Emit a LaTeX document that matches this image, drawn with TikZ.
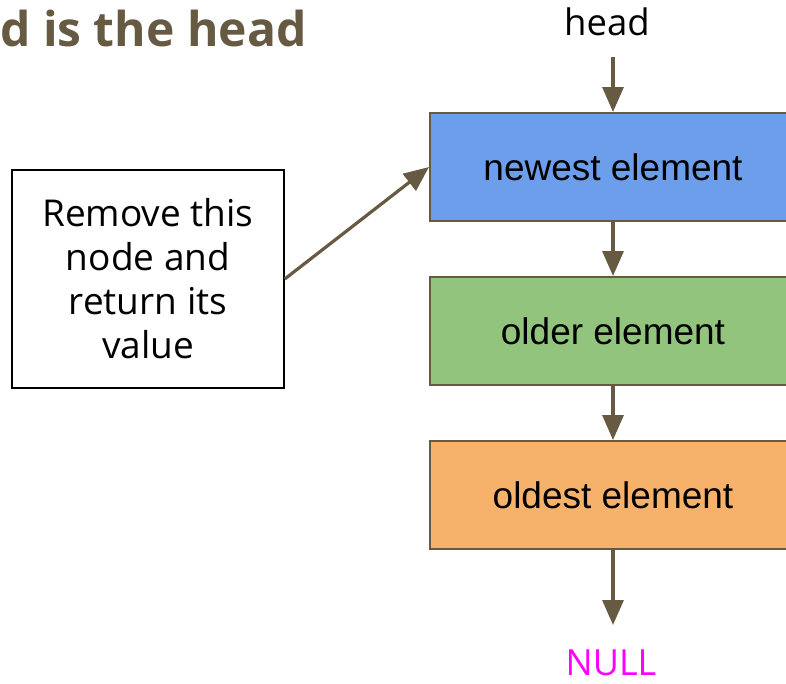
\documentclass[tikz,border=0pt]{standalone}
\usepackage{fontspec}
\setmainfont{Open Sans}
\newfontfamily\boxfont{Liberation Sans}
\usetikzlibrary{arrows.meta}
\definecolor{linkbrown}{RGB}{102,90,67}
\definecolor{newblue}{RGB}{109,158,235}
\definecolor{oldgreen}{RGB}{147,196,125}
\definecolor{oldestorange}{RGB}{246,178,107}
\definecolor{nullpink}{RGB}{255,0,255}
\tikzset{
	elembox/.style={draw=linkbrown, line width=2pt, minimum width=366pt, minimum height=108pt,
		inner sep=0pt, font=\boxfont\fontsize{37}{44}\selectfont},
	linkarrow/.style={draw=linkbrown, line width=3.2pt, -{Triangle[length=25pt,width=21pt]}},
}

\begin{document}
\begin{tikzpicture}[x=1pt, y=-1pt]
			%%%%% START %%%%%
			\useasboundingbox (0,0) rectangle (786,683);
			\clip (0,0) rectangle (786,683);
			
			\node[anchor=base west, inner sep=0pt, text=linkbrown, font=\bfseries\fontsize{48}{54}\selectfont] (title) at (0,46) {d is the head};
			
			\node[anchor=base, inner sep=0pt, font=\fontsize{36.5}{42}\selectfont] (head) at (607,35) {head};
			\coordinate (headptr) at (613,57);
			
			\node[elembox, fill=newblue] (newest) at (613,167) {newest element};
			\node[elembox, fill=oldgreen] (older) at (613,331) {older element};
			\node[elembox, fill=oldestorange] (oldest) at (613,495) {oldest element};
			
			\node[draw=black, line width=1.5pt, minimum width=272pt, minimum height=218pt, align=center,
				font=\fontsize{37}{44}\selectfont] (note) at (148,279) {Remove this\\node and\\return its\\value};
			
			\coordinate (nullptr) at (613,625);
			\node[anchor=base, inner sep=0pt, text=nullpink, font=\fontsize{36}{40}\selectfont] (null) at (611,675) {NULL};
			
			\draw[linkarrow] (headptr) -- (headptr |- newest.north);
			\draw[linkarrow] (newest.south) -- (older.north);
			\draw[linkarrow] (older.south) -- (oldest.north);
			\draw[linkarrow] (oldest.south) -- (nullptr);
			\draw[linkarrow] (note.east) -- (newest.west);
			%%%%% END %%%%%
		\end{tikzpicture}
\end{document}
